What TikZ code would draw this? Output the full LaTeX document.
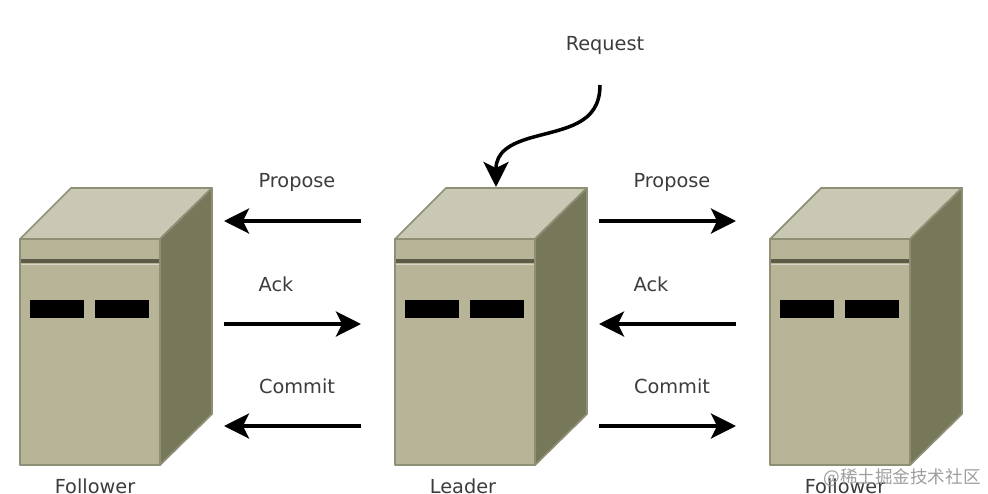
\documentclass[tikz,border=0pt]{standalone}
\usepackage{fontspec}
\setmainfont{DejaVu Sans}
\newfontfamily\cjk{Noto Sans CJK SC}
\usetikzlibrary{arrows.meta}
\definecolor{topface}{HTML}{C8C8B4}
\definecolor{frontface}{HTML}{B7B498}
\definecolor{sideface}{HTML}{777759}
\definecolor{edgeline}{HTML}{8F8F76}
\definecolor{bandline}{HTML}{5C5C46}
\definecolor{labeltext}{HTML}{3C3C3C}
\tikzset{
  face/.style={draw=edgeline, line width=1pt, line join=round},
  slot/.style={fill=black, draw=none, rectangle, inner sep=0pt, minimum width=1.08cm, minimum height=0.36cm},
  label/.style={text=labeltext, font=\fontsize{11}{13}\selectfont, inner sep=0pt},
  msg/.style={-{Stealth[length=0.5cm, width=0.5cm, inset=0.12cm]}, black, line width=2pt},
}
\begin{document}
\begin{tikzpicture}[x=0.02cm, y=-0.02cm]
\useasboundingbox (0,0) rectangle (988,494);

% the three servers
\foreach \sx/\sname/\stext/\tx in {20/F1/Follower/75, 395/L/Leader/68, 770/F2/Follower/75}{
  \begin{scope}[shift={(\sx,0)}]
    \filldraw[face, fill=topface] (0,239) -- (51,188) -- (192,188) -- (140,239) -- cycle;
    \filldraw[face, fill=sideface] (140,239) -- (192,188) -- (192,414) -- (140,465) -- cycle;
    \filldraw[face, fill=frontface] (0,239) rectangle (140,465);
    \draw[bandline, line width=1.8pt] (1,261) -- (139,261);
    \draw[white!45!frontface, line width=0.5pt] (1,264) -- (139,264);
    \node[slot] (\sname a) at (37,309) {};
    \node[slot] (\sname b) at (102,309) {};
    \node[label] (\sname name) at (\tx,486) {\stext};
  \end{scope}
}

% message labels
\node[label] (ReqText) at (605,45) {Request};
\node[label] (ProL) at (297,182) {Propose};
\node[label] (AckL) at (276,284) {Ack};
\node[label] (ComL) at (297,386) {Commit};
\node[label] (ProR) at (672,182) {Propose};
\node[label] (AckR) at (651,284) {Ack};
\node[label] (ComR) at (672,386) {Commit};

% arrow ends
\coordinate (LW1) at (361,221);
\coordinate (LW2) at (361,324);
\coordinate (LW3) at (361,426);
\coordinate (FW1) at (224,221);
\coordinate (FW2) at (224,324);
\coordinate (FW3) at (224,426);
\coordinate (LE1) at (599,221);
\coordinate (LE2) at (599,324);
\coordinate (LE3) at (599,426);
\coordinate (FE1) at (736,221);
\coordinate (FE2) at (736,324);
\coordinate (FE3) at (736,426);
\coordinate (ReqTop) at (600,85);
\coordinate (ReqEnd) at (496,187);

\path[msg] (LW1) edge (FW1);
\path[msg] (FW2) edge (LW2);
\path[msg] (LW3) edge (FW3);
\path[msg] (LE1) edge (FE1);
\path[msg] (FE2) edge (LE2);
\path[msg] (LE3) edge (FE3);
\draw[msg] (ReqTop) .. controls (600,125) and (565,128) .. (530,138) .. controls (510,144) and (496,152) .. (ReqEnd);

\node[text=black!38, font=\cjk\fontsize{10}{12}\selectfont, inner sep=0pt] (Mark) at (902,478) {@稀土掘金技术社区};
\end{tikzpicture}
\end{document}
